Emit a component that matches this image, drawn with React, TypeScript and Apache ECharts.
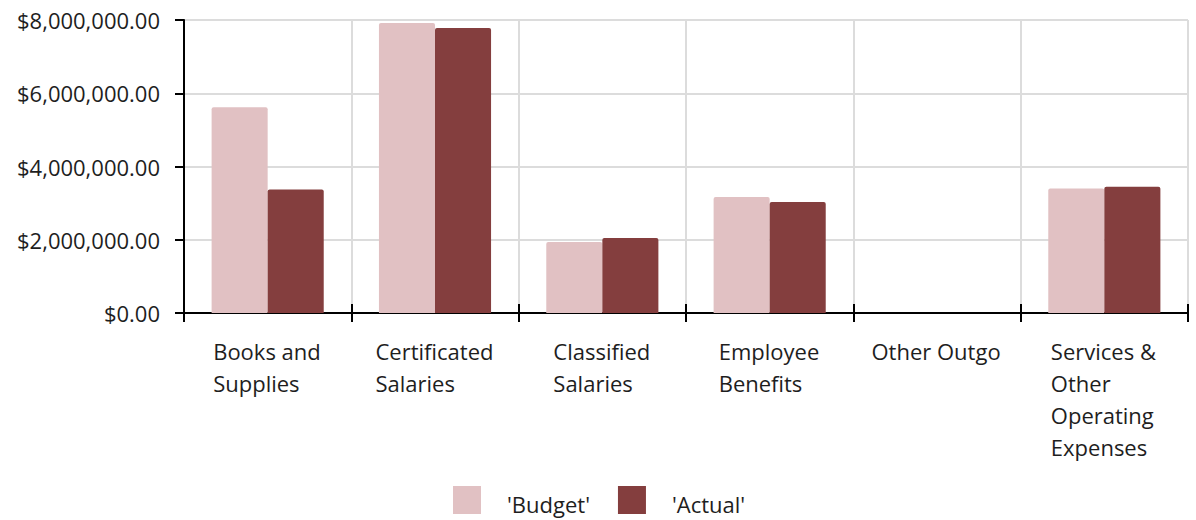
import React, { useEffect, useRef } from "react";
import * as echarts from "echarts";

const categories = [
  "Books and\nSupplies",
  "Certificated\nSalaries",
  "Classified\nSalaries",
  "Employee\nBenefits",
  "Other Outgo",
  "Services &\nOther\nOperating\nExpenses",
];
const budget = [5620000, 7920000, 1940000, 3170000, 0, 3400000];
const actual = [3370000, 7780000, 2050000, 3030000, 0, 3450000];
const seriesNames = ["'Budget'", "'Actual'"];
const yTicks = { min: 0, max: 8000000, interval: 2000000 };

const FONT = "Open Sans";
const FS = 22;
const TEXT = "#1e1e1e";

export default function App() {
  const ref = useRef<HTMLDivElement>(null);
  useEffect(() => {
    if (!ref.current) return;
    const chart = echarts.init(ref.current, undefined, { renderer: "svg" });
    const ctx = document.createElement("canvas").getContext("2d")!;
    ctx.font = `${FS}px "${FONT}"`;
    const rich: Record<string, any> = {};
    categories.forEach((c, i) => {
      const w = Math.max(...c.split("\n").map((l) => ctx.measureText(l).width));
      rich["c" + i] = {
        width: Math.ceil(w) + 1,
        align: "left",
        fontFamily: FONT,
        fontSize: FS,
        color: TEXT,
        lineHeight: 32,
      };
    });
    chart.setOption({
      animation: false,
      textStyle: { fontFamily: FONT },
      grid: { left: 184, right: 8, top: 20, bottom: 207, containLabel: false },
      legend: {
        data: seriesNames,
        left: 453,
        top: 486,
        padding: 0,
        itemWidth: 28,
        itemHeight: 28,
        itemGap: 28,
        icon: "rect",
        formatter: (n: string) => `{t|${n}}`,
        textStyle: {
          fontFamily: FONT,
          fontSize: FS,
          color: TEXT,
          rich: {
            t: { fontFamily: FONT, fontSize: FS, color: TEXT, padding: [8, 0, 0, 21] },
          },
        },
      },
      xAxis: [
        {
          type: "category",
          data: categories,
          axisLine: { lineStyle: { color: "#000", width: 2 } },
          axisTick: { show: true, inside: false, length: 9, lineStyle: { color: "#000", width: 2 } },
          splitLine: { show: true, lineStyle: { color: "#dcdcdc", width: 2 } },
          axisLabel: {
            interval: 0,
            margin: 22,
            verticalAlign: "top",
            formatter: (v: string) => {
              const i = categories.indexOf(v);
              return v.split("\n").map((l) => `{c${i}|${l}}`).join("\n");
            },
            rich,
          },
        },
        {
          type: "category",
          data: categories,
          position: "bottom",
          axisLine: { show: false },
          axisTick: { show: true, inside: true, length: 9, lineStyle: { color: "#000", width: 2 } },
          axisLabel: { show: false },
          splitLine: { show: false },
        },
      ],
      yAxis: {
        type: "value",
        min: yTicks.min,
        max: yTicks.max,
        interval: yTicks.interval,
        axisLine: { show: true, lineStyle: { color: "#000", width: 2 } },
        axisTick: { show: true, length: 9, lineStyle: { color: "#000", width: 2 } },
        splitLine: { show: true, lineStyle: { color: "#dcdcdc", width: 2 } },
        axisLabel: {
          margin: 24,
          fontFamily: FONT,
          fontSize: FS,
          color: TEXT,
          formatter: (v: number) =>
            "$" + v.toLocaleString("en-US", { minimumFractionDigits: 2, maximumFractionDigits: 2 }),
        },
      },
      series: [
        {
          name: seriesNames[0],
          type: "bar",
          data: budget,
          barGap: "0%",
          barCategoryGap: "33%",
          itemStyle: { color: "#e1c1c3", borderRadius: [2, 2, 0, 0] },
        },
        {
          name: seriesNames[1],
          type: "bar",
          data: actual,
          barGap: "0%",
          barCategoryGap: "33%",
          itemStyle: { color: "#843e3e", borderRadius: [2, 2, 0, 0] },
        },
      ],
    });
    return () => chart.dispose();
  }, []);
  return (
    <div
      ref={ref}
      style={{ position: "fixed", left: 0, top: 0, width: 1196, height: 520, background: "#fff" }}
    />
  );
}
